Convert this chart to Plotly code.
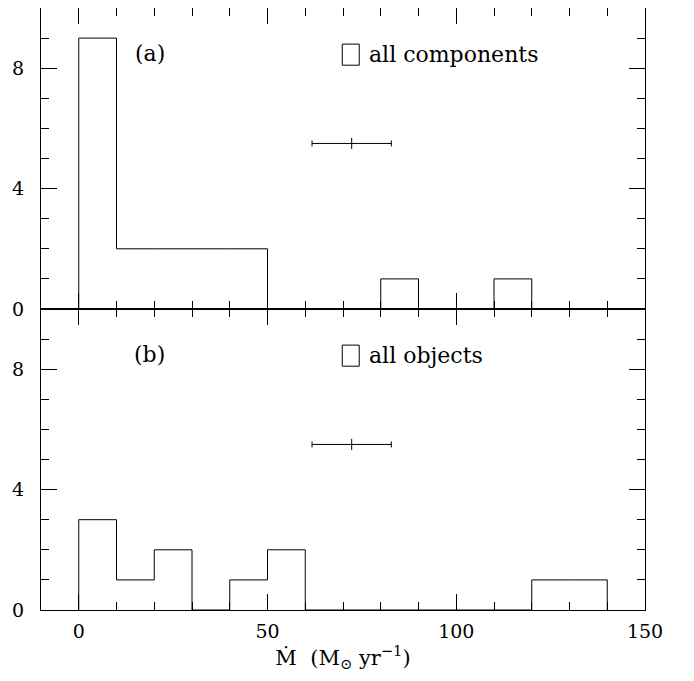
import plotly.graph_objects as go

# ---- data ----
bin_edges = [0, 10, 20, 30, 40, 50, 60, 70, 80, 90, 100, 110, 120, 130, 140]
counts_components = [9, 2, 2, 2, 2, 0, 0, 0, 1, 0, 0, 1, 0, 0]
counts_objects = [3, 1, 2, 0, 1, 2, 0, 0, 0, 0, 0, 0, 1, 1]
errbar_center = 72.3
errbar_half = 10.5
errbar_y = 5.5
panel_labels = ["(a)", "(b)"]
legend_labels = ["all components", "all objects"]
x_tickvals = [0, 50, 100, 150]
y_tickvals = [0, 4, 8]

FONT = "DejaVu Serif"
BLACK = "#000000"


def step_xy(edges, counts):
    xs = [edges[0]] + list(edges[:-1]) + [edges[-1]]
    ys = [0] + list(counts) + [0]
    return xs, ys


fig = go.Figure()

for i, counts in enumerate([counts_components, counts_objects]):
    xs, ys = step_xy(bin_edges, counts)
    xa = "x" if i == 0 else "x2"
    ya = "y" if i == 0 else "y2"
    fig.add_trace(go.Scatter(x=xs, y=ys, mode="lines", line=dict(shape="hv", color=BLACK, width=1),
                             xaxis=xa, yaxis=ya, showlegend=False, hoverinfo="skip"))
    fig.add_trace(go.Scatter(x=[errbar_center], y=[errbar_y], mode="markers",
                             marker=dict(symbol="line-ns", size=8, line=dict(color=BLACK, width=1)),
                             error_x=dict(type="constant", value=errbar_half, color=BLACK, thickness=1, width=3),
                             xaxis=xa, yaxis=ya, showlegend=False, hoverinfo="skip"))

axis_common = dict(range=[-10, 150], ticks="inside", mirror="allticks", showline=True, automargin=False,
                   linecolor=BLACK, linewidth=1.2, tickcolor=BLACK, ticklen=16, tickwidth=1,
                   tickvals=x_tickvals, showgrid=False, zeroline=False,
                   minor=dict(dtick=10, tick0=0, ticks="inside", ticklen=8, tickcolor=BLACK, tickwidth=1,
                              showgrid=False),
                   tickfont=dict(family=FONT, size=19, color=BLACK))
yaxis_common = dict(range=[0, 10], ticks="inside", mirror="allticks", showline=True, automargin=False,
                    linecolor=BLACK, linewidth=1.2, tickcolor=BLACK, ticklen=16, tickwidth=1,
                    tickvals=y_tickvals, showgrid=False, zeroline=False,
                    minor=dict(dtick=1, tick0=0, ticks="inside", ticklen=8, tickcolor=BLACK, tickwidth=1,
                               showgrid=False),
                    tickfont=dict(family=FONT, size=19, color=BLACK), ticklabelstandoff=12)

# page body has an 8px default margin, so the figure is shrunk/shifted to compensate
fig.update_layout(
    width=686, height=673,
    margin=dict(l=33, r=49, t=0, b=71),
    paper_bgcolor="white", plot_bgcolor="white",
    xaxis=dict(axis_common, domain=[0, 1], anchor="y", showticklabels=False),
    yaxis=dict(yaxis_common, domain=[0.5, 1], anchor="x"),
    xaxis2=dict(axis_common, domain=[0, 1], anchor="y2", showticklabels=True,
                ticklabelstandoff=4,
                title=dict(text="Ṁ  (M<sub>⊙</sub> yr<sup>−1</sup>)", font=dict(family=FONT, size=21, color=BLACK),
                           standoff=6)),
    yaxis2=dict(yaxis_common, domain=[0, 0.5], anchor="x2"),
)

for i, (xa, ya) in enumerate([("x", "y"), ("x2", "y2")]):
    fig.add_annotation(x=18.8, y=8.5, xref=xa, yref=ya, text=panel_labels[i], showarrow=False,
                       font=dict(family=FONT, size=22, color=BLACK))
    fig.add_shape(type="rect", x0=69.8, x1=74.3, y0=8.1, y1=8.8, xref=xa, yref=ya,
                  line=dict(color=BLACK, width=1), fillcolor="rgba(0,0,0,0)")
    fig.add_annotation(x=76.3, y=8.46, xref=xa, yref=ya, text=legend_labels[i], showarrow=False,
                       xanchor="left", font=dict(family=FONT, size=22, color=BLACK))

fig.write_html("out.html")
